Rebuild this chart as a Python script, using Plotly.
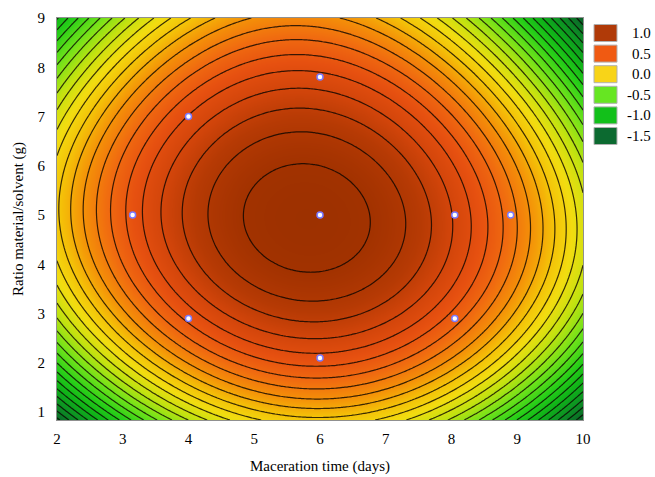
import numpy as np
import plotly.graph_objects as go

# --- fitted response-surface model ---
X_CENTER = 5.8      # days at optimum
Y_CENTER = 4.92     # g at optimum
Z_MAX = 1.27        # response at optimum
A_X = 0.0754        # curvature in maceration time
A_Y = 0.058         # curvature in ratio
C_Y = 0.002         # cubic term in ratio
B_XY = -0.008       # interaction
D_XXYY = 0.0012     # quartic interaction

x_range = [2, 10]
y_range = [0.84, 9]

# experimental design points
design_x = [6, 4, 3.15, 6, 8.05, 8.9, 4, 8.05, 6]
design_y = [7.8, 7, 5, 5, 5, 5, 2.9, 2.9, 2.1]

# legend levels and colours
legend_labels = ["1.0", "0.5", "0.0", "-0.5", "-1.0", "-1.5"]
legend_colors = ["#b03a08", "#f05a12", "#f8d418", "#66e622", "#12c01a", "#0c6a30"]

x_ticks = [2, 3, 4, 5, 6, 7, 8, 9, 10]
y_ticks = [1, 2, 3, 4, 5, 6, 7, 8, 9]

gx = np.linspace(x_range[0], x_range[1], 201)
gy = np.linspace(y_range[0], y_range[1], 201)
XX, YY = np.meshgrid(gx, gy)
DX = XX - X_CENTER
DY = YY - Y_CENTER
Z = (Z_MAX - A_X * DX**2 - A_Y * DY**2 + C_Y * DY**3
     + B_XY * DX * DY - D_XXYY * DX**2 * DY**2)

zmin, zmax = -1.7, 1.35
stops = [
    (-1.7, "#054a1c"),
    (-1.35, "#0a6428"),
    (-1.1, "#0c8e24"),
    (-0.85, "#10b418"),
    (-0.65, "#26ce18"),
    (-0.4, "#6ee21a"),
    (-0.15, "#c4e210"),
    (0.05, "#f2dc10"),
    (0.22, "#f4c008"),
    (0.4, "#f49008"),
    (0.58, "#f06a10"),
    (0.75, "#e65010"),
    (0.92, "#d0440a"),
    (1.05, "#b63a04"),
    (1.2, "#a23200"),
    (1.35, "#983000"),
]
colorscale = [[(v - zmin) / (zmax - zmin), c] for v, c in stops]

fig = go.Figure()
fig.add_trace(go.Contour(
    x=gx, y=gy, z=Z,
    zmin=zmin, zmax=zmax, zauto=False,
    colorscale=colorscale,
    showscale=False,
    contours=dict(start=-1.7, end=1.2, size=0.1, coloring="heatmap", showlabels=False),
    line=dict(color="rgba(10,5,0,0.8)", width=1.2, smoothing=1),
    hoverinfo="skip",
))
fig.add_trace(go.Scatter(
    x=design_x, y=design_y, mode="markers",
    marker=dict(size=6, color="white", line=dict(color="#7a7aff", width=1.5)),
    showlegend=False, hoverinfo="skip",
))

W, H = 655, 477
ML, MR, MT, MB = 57, 72, 18, 57
pw, ph = W - ML - MR, H - MT - MB

def px2paper_x(px):
    return (px - ML) / pw

def px2paper_y(py):
    return 1 - (py - MT) / ph

shapes = []
annotations = []
for i, (lab, col) in enumerate(zip(legend_labels, legend_colors)):
    top = 24.5 + i * 20.6
    shapes.append(dict(type="rect", xref="paper", yref="paper",
                       x0=px2paper_x(594), x1=px2paper_x(617),
                       y0=px2paper_y(top + 17), y1=px2paper_y(top),
                       fillcolor=col, line=dict(color="#b0b0b0", width=1)))
    annotations.append(dict(xref="paper", yref="paper",
                            x=px2paper_x(653), y=px2paper_y(top + 8.5),
                            text=lab, showarrow=False, xanchor="right", yanchor="middle",
                            font=dict(family="Liberation Serif", size=15, color="black")))

fig.update_layout(
    width=W, height=H,
    margin=dict(l=ML, r=MR, t=MT, b=MB, autoexpand=False),
    paper_bgcolor="white", plot_bgcolor="white",
    font=dict(family="Liberation Serif", size=15, color="black"),
    shapes=shapes, annotations=annotations,
    showlegend=False,
)
fig.update_xaxes(range=x_range, tickvals=x_ticks, ticks="", showgrid=False, zeroline=False,
                 automargin=False, ticklabelstandoff=5,
                 showline=True, mirror=True, linecolor="#909090", linewidth=1,
                 title=dict(text="Maceration time (days)", standoff=14,
                            font=dict(family="Liberation Serif", size=15)))
fig.update_yaxes(range=y_range, tickvals=y_ticks, ticks="", showgrid=False, zeroline=False,
                 automargin=False, ticklabelstandoff=8,
                 showline=True, mirror=True, linecolor="#909090", linewidth=1,
                 title=dict(text="Ratio material/solvent (g)", standoff=10,
                            font=dict(family="Liberation Serif", size=15)))

fig.write_html("out.html", config={"displayModeBar": False},
               post_script="document.body.style.margin='0';document.body.style.padding='0';")
